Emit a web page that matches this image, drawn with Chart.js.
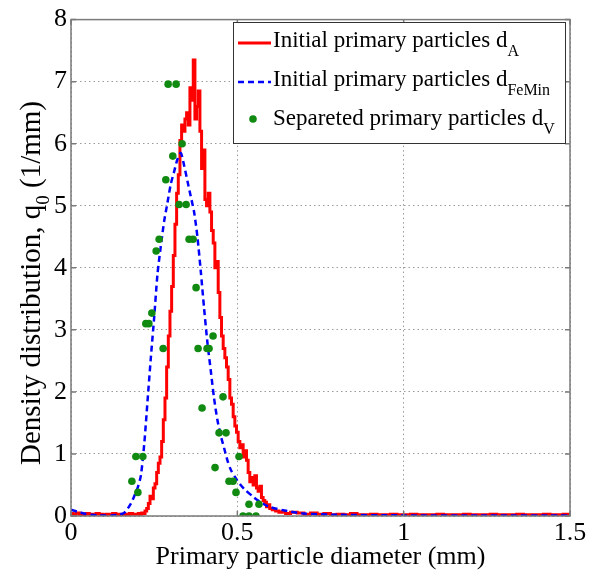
<!DOCTYPE html>
<html>
<head>
<meta charset="utf-8">
<script src="https://cdn.jsdelivr.net/npm/chart.js@4/dist/chart.umd.min.js"></script>
<style>
  html, body { margin: 0; padding: 0; background: #fff; }
  #wrap { width: 598px; height: 577px; }
</style>
</head>
<body>
<div id="wrap"><canvas id="c" width="598" height="577"></canvas></div>
<script>
// Primary particle diameter (mm) and density distribution q0 (1/mm)

// d_A : image-analysis histogram of initial primary particles
const areaX = [
  0.00, 0.01, 0.02, 0.03, 0.04, 0.05, 0.06, 0.07, 0.08, 0.09,
  0.10, 0.11, 0.12, 0.13, 0.14, 0.15, 0.16, 0.17, 0.18, 0.19,
  0.200, 0.205, 0.210, 0.215, 0.220, 0.225, 0.230, 0.235, 0.240, 0.245,
  0.250, 0.255, 0.260, 0.265, 0.270, 0.275, 0.280, 0.285, 0.290, 0.295,
  0.300, 0.305, 0.310, 0.315, 0.320, 0.325, 0.330, 0.335, 0.340, 0.345,
  0.350, 0.355, 0.360, 0.365, 0.370, 0.375, 0.380, 0.385, 0.390, 0.395,
  0.400, 0.405, 0.410, 0.415, 0.420, 0.425, 0.430, 0.435, 0.440, 0.445,
  0.450, 0.455, 0.460, 0.465, 0.470, 0.475, 0.480, 0.485, 0.490, 0.495,
  0.500, 0.505, 0.510, 0.515, 0.520, 0.525, 0.530, 0.535, 0.540, 0.545,
  0.550, 0.555, 0.560, 0.565, 0.570, 0.575, 0.580, 0.585, 0.590, 0.595,
  0.600, 0.610, 0.620, 0.630, 0.640, 0.650,
  0.67, 0.69, 0.71, 0.73, 0.75, 0.77, 0.79, 0.81, 0.83, 0.85,
  0.87, 0.89, 0.91, 0.93, 0.95, 0.97, 0.99, 1.01, 1.03, 1.05,
  1.07, 1.09, 1.11, 1.13, 1.15, 1.17, 1.19, 1.21, 1.23, 1.25,
  1.27, 1.29, 1.31, 1.33, 1.35, 1.37, 1.39, 1.41, 1.43, 1.45,
  1.47, 1.49, 1.50
];
const areaY = [
  0.04, 0.03, 0.05, 0.03, 0.02, 0.04, 0.03, 0.02, 0.04, 0.03,
  0.02, 0.03, 0.02, 0.04, 0.03, 0.02, 0.03, 0.02, 0.04, 0.03,
  0.03, 0.04, 0.03, 0.05, 0.04, 0.08, 0.12, 0.20, 0.32, 0.28,
  0.45, 0.52, 0.70, 0.85, 0.95, 1.20, 1.55, 1.90, 2.40, 2.90,
  3.30, 3.70, 4.20, 4.70, 5.20, 5.50, 6.05, 6.30, 6.20, 6.40,
  6.50, 6.30, 6.90, 6.70, 7.35, 6.40, 6.60, 6.85, 6.20, 5.60,
  5.90, 5.10, 5.00, 5.20, 4.90, 4.60, 4.40, 4.00, 4.10, 3.60,
  3.20, 2.90, 2.70, 2.55, 2.40, 2.20, 1.90, 1.80, 1.60, 1.45,
  1.35, 1.20, 1.10, 1.15, 0.95, 1.05, 0.90, 0.70, 0.55, 0.62,
  0.50, 0.65, 0.45, 0.40, 0.48, 0.30, 0.25, 0.22, 0.15, 0.18,
  0.12, 0.10, 0.08, 0.06, 0.07, 0.04,
  0.06, 0.05, 0.03, 0.05, 0.03, 0.04, 0.02, 0.03, 0.02, 0.04,
  0.02, 0.02, 0.03, 0.02, 0.02, 0.03, 0.02, 0.02, 0.03, 0.02,
  0.02, 0.02, 0.03, 0.02, 0.02, 0.02, 0.03, 0.02, 0.02, 0.02,
  0.03, 0.02, 0.02, 0.02, 0.03, 0.02, 0.02, 0.02, 0.03, 0.02,
  0.02, 0.03, 0.02
];

// d_FeMin : fitted distribution of initial primary particles
const feretX = [
  0.00, 0.02, 0.04, 0.06, 0.08, 0.10, 0.12, 0.14, 0.16, 0.18,
  0.19, 0.20, 0.21, 0.22, 0.23, 0.24, 0.25, 0.26, 0.27, 0.28,
  0.29, 0.30, 0.31, 0.32, 0.33, 0.34, 0.35, 0.36, 0.37, 0.38,
  0.39, 0.40, 0.41, 0.42, 0.43, 0.44, 0.45, 0.46, 0.47, 0.48,
  0.50, 0.52, 0.55, 0.58, 0.60, 0.65, 0.70, 0.80, 1.00, 1.25, 1.50
];
const feretY = [
  0.10, 0.07, 0.04, 0.02, 0.01, 0.01, 0.01, 0.02, 0.05, 0.20,
  0.32, 0.45, 0.65, 1.15, 1.85, 2.55, 3.20, 3.90, 4.35, 4.75,
  5.05, 5.35, 5.55, 5.75, 5.85, 5.65, 5.40, 5.15, 4.90, 4.50,
  3.95, 3.35, 2.80, 2.35, 1.90, 1.55, 1.30, 1.10, 0.90, 0.75,
  0.57, 0.44, 0.30, 0.19, 0.14, 0.08, 0.04, 0.02, 0.01, 0.01, 0.01
];

// d_V : separated primary particles
const sepX = [
  0.292, 0.316, 0.334, 0.306, 0.285, 0.325, 0.346, 0.265, 0.256, 0.355,
  0.367, 0.376, 0.243, 0.225, 0.234, 0.277, 0.382, 0.409, 0.415, 0.427,
  0.457, 0.394, 0.445, 0.466, 0.195, 0.216, 0.505, 0.433, 0.183, 0.201,
  0.475, 0.487, 0.496, 0.535, 0.565, 0.517, 0.535, 0.556
];
const sepY = [
  6.96, 6.96, 6.00, 5.80, 5.42, 5.02, 5.02, 4.46, 4.27, 4.46,
  4.46, 3.68, 3.27, 3.10, 3.10, 2.70, 2.70, 2.70, 2.70, 2.90,
  1.92, 1.74, 1.34, 1.34, 0.96, 0.96, 0.96, 0.78, 0.56, 0.38,
  0.56, 0.56, 0.38, 0.19, 0.19, 0.00, 0.00, 0.00
];

const xTicks = [0, 0.5, 1, 1.5];
const yTicks = [0, 1, 2, 3, 4, 5, 6, 7, 8];

const seriesNames = [
  ['Initial primary particles d', 'A'],
  ['Initial primary particles d', 'FeMin'],
  ['Separeted primary particles d', 'V']
];
const xTitle = 'Primary particle diameter (mm)';
const yTitle = ['Density distribution, q', '0', ' (1/mm)'];

const RED = '#ff0000', BLUE = '#0000ff', GREEN = '#118a11';
const SERIF = '"Liberation Serif", "DejaVu Serif", serif';

const pairs = (xs, ys) => xs.map((x, i) => ({ x, y: ys[i] }));

// draws text followed by a lowered, smaller subscript; returns width
function drawSub(ctx, main, sub, x, y, size, subSize, drop) {
  ctx.textAlign = 'left';
  ctx.textBaseline = 'alphabetic';
  ctx.font = size + 'px ' + SERIF;
  const w1 = ctx.measureText(main).width;
  ctx.fillText(main, x, y);
  ctx.font = subSize + 'px ' + SERIF;
  ctx.fillText(sub, x + w1, y + drop);
  return w1 + ctx.measureText(sub).width;
}

const framePlugin = {
  id: 'frame',
  afterDatasetsDraw(chart) {
    const { ctx, chartArea: a, scales } = chart;
    ctx.save();
    // axes box with inward ticks
    ctx.strokeStyle = '#7a7a7a';
    ctx.lineWidth = 1.5;
    ctx.strokeRect(a.left, a.top, a.right - a.left, a.bottom - a.top);
    ctx.beginPath();
    const t = 5;
    xTicks.forEach(v => {
      const px = scales.x.getPixelForValue(v);
      ctx.moveTo(px, a.bottom); ctx.lineTo(px, a.bottom - t);
      ctx.moveTo(px, a.top); ctx.lineTo(px, a.top + t);
    });
    yTicks.forEach(v => {
      const py = scales.y.getPixelForValue(v);
      ctx.moveTo(a.left, py); ctx.lineTo(a.left + t, py);
      ctx.moveTo(a.right, py); ctx.lineTo(a.right - t, py);
    });
    ctx.stroke();

    // legend box
    const L = { x: 233, y: 22, w: 332, h: 121 };
    ctx.fillStyle = '#fff';
    ctx.fillRect(L.x, L.y, L.w, L.h);
    ctx.strokeStyle = '#333';
    ctx.lineWidth = 1;
    ctx.strokeRect(L.x + 0.5, L.y + 0.5, L.w, L.h);

    ctx.lineWidth = 3;
    ctx.strokeStyle = RED;
    ctx.setLineDash([]);
    ctx.beginPath(); ctx.moveTo(238, 43); ctx.lineTo(271, 43); ctx.stroke();
    ctx.lineWidth = 2.5;
    ctx.strokeStyle = BLUE;
    ctx.setLineDash([6, 4]);
    ctx.beginPath(); ctx.moveTo(238, 82); ctx.lineTo(271, 82); ctx.stroke();
    ctx.setLineDash([]);
    ctx.fillStyle = GREEN;
    ctx.beginPath(); ctx.arc(253, 119, 3.8, 0, Math.PI * 2); ctx.fill();

    ctx.fillStyle = '#000';
    drawSub(ctx, seriesNames[0][0], seriesNames[0][1], 273, 47, 23, 16, 9);
    drawSub(ctx, seriesNames[1][0], seriesNames[1][1], 273, 86, 23, 16, 9);
    drawSub(ctx, seriesNames[2][0], seriesNames[2][1], 273, 125, 23, 16, 9);

    // axis titles
    ctx.font = '26px ' + SERIF;
    ctx.textAlign = 'center';
    ctx.textBaseline = 'alphabetic';
    ctx.fillText(xTitle, (a.left + a.right) / 2, 564);

    ctx.translate(40, 283);
    ctx.rotate(-Math.PI / 2);
    const big = '29px ' + SERIF, small = '19px ' + SERIF;
    ctx.font = big;
    const w1 = ctx.measureText(yTitle[0]).width;
    const w3 = ctx.measureText(yTitle[2]).width;
    ctx.font = small;
    const w2 = ctx.measureText(yTitle[1]).width;
    const x0 = -(w1 + w2 + w3) / 2;
    ctx.textAlign = 'left';
    ctx.font = big;
    ctx.fillText(yTitle[0], x0, 0);
    ctx.font = small;
    ctx.fillText(yTitle[1], x0 + w1, 9);
    ctx.font = big;
    ctx.fillText(yTitle[2], x0 + w1 + w2, 0);
    ctx.restore();
  }
};

new Chart(document.getElementById('c'), {
  type: 'scatter',
  data: {
    datasets: [
      {
        label: 'dV',
        data: pairs(sepX, sepY),
        showLine: false,
        pointRadius: 3.8,
        pointBackgroundColor: GREEN,
        pointBorderWidth: 0,
        order: 0
      },
      {
        label: 'dFeMin',
        data: pairs(feretX, feretY),
        showLine: true,
        borderColor: BLUE,
        borderWidth: 2.5,
        borderDash: [6, 4],
        pointRadius: 0,
        tension: 0.25,
        order: 1
      },
      {
        label: 'dA',
        data: pairs(areaX, areaY),
        showLine: true,
        borderColor: RED,
        borderWidth: 3,
        stepped: 'middle',
        pointRadius: 0,
        order: 2
      }
    ]
  },
  options: {
    responsive: false,
    animation: false,
    events: [],
    layout: { padding: { left: 0, top: 15, right: 28, bottom: 0 } },
    plugins: { legend: { display: false }, tooltip: { enabled: false } },
    scales: {
      x: {
        type: 'linear',
        min: 0, max: 1.5,
        afterBuildTicks: s => { s.ticks = xTicks.map(v => ({ value: v })); },
        afterFit: s => { s.height = 61; },
        ticks: {
          color: '#000',
          font: { family: SERIF, size: 26 },
          padding: 2,
          maxRotation: 0,
          callback: v => String(v)
        },
        grid: { color: '#9a9a9a', lineWidth: 1, drawTicks: false },
        border: { display: false, dash: [1.5, 3] }
      },
      y: {
        type: 'linear',
        min: 0, max: 8,
        afterBuildTicks: s => { s.ticks = yTicks.map(v => ({ value: v })); },
        afterFit: s => { s.width = 71; },
        ticks: {
          color: '#000',
          font: { family: SERIF, size: 26 },
          padding: 4,
          callback: v => String(v)
        },
        grid: { color: '#9a9a9a', lineWidth: 1, drawTicks: false },
        border: { display: false, dash: [1.5, 3] }
      }
    }
  },
  plugins: [framePlugin]
});
</script>
</body>
</html>
